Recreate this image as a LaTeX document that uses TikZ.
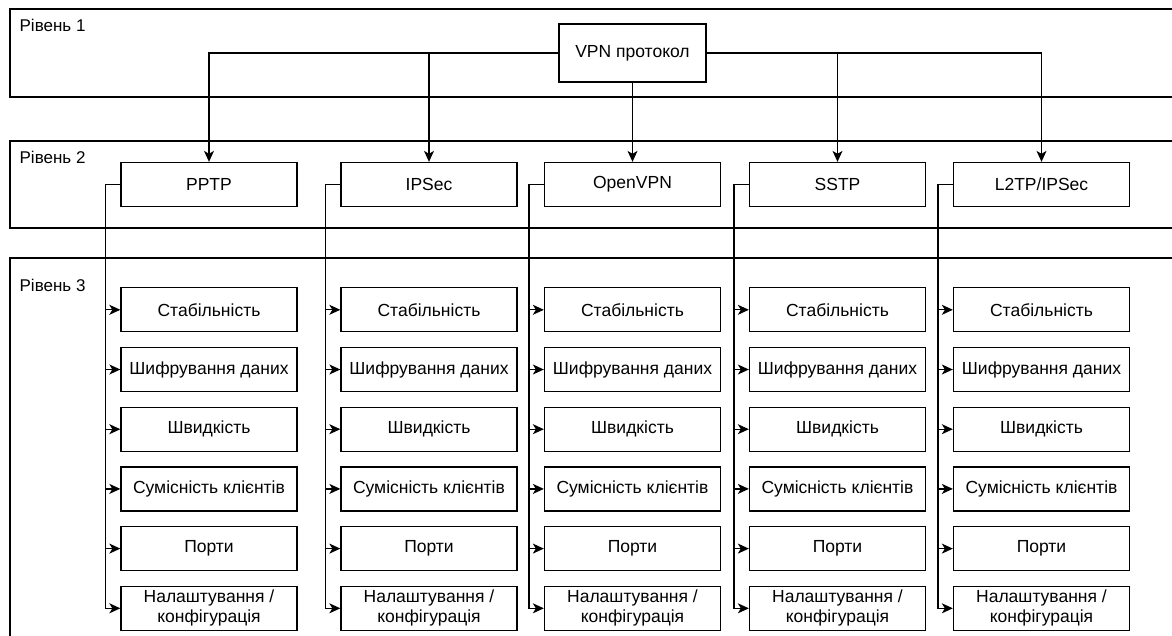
\documentclass[tikz,border=0pt]{standalone}
\usepackage{fontspec}
\setmainfont{Liberation Sans}
\usetikzlibrary{arrows.meta,positioning}

\begin{document}
\begin{tikzpicture}[x=1pt, y=-1pt, line width=1.3pt, node distance=14.4pt,
    box/.style={rectangle, draw, minimum width=176pt, minimum height=44pt, inner sep=1pt, align=center, font=\fontsize{17.5}{20}\selectfont},
    lvl/.style={anchor=west, inner sep=0pt, font=\fontsize{17}{20}\selectfont},
    arr/.style={-{Stealth[length=11pt, width=10pt, inset=3pt]}}]
    \useasboundingbox (0,0) rectangle (1172,635);
    \clip (0,0) rectangle (1172,635);

    % Level bands
    \draw (10,9) rectangle (1200,97);
    \draw (10,141) rectangle (1200,228);
    \draw (10,258) rectangle (1200,660);
    \node[lvl] (lvl1) at (19,25) {Рівень 1};
    \node[lvl] (lvl2) at (19,157) {Рівень 2};
    \node[lvl] (lvl3) at (19,285) {Рівень 3};

    % Level 1
    \node[box, minimum width=147pt, minimum height=58pt] (vpn) at (632.5,53) {VPN протокол};

    % Level 2
    \node[box] (pptp) at (209,184.5) {PPTP};
    \node[box] (ipsec) at (429,184.5) {IPSec};
    \node[box] (openvpn) at (632.5,184.5) {OpenVPN};
    \node[box] (sstp) at (837.5,184.5) {SSTP};
    \node[box] (l2tp) at (1041.5,184.5) {L2TP/IPSec};

    % Arrows from level 1
    \draw[arr] (vpn.west) -| (pptp.north);
    \draw[arr] (vpn.west) -| (ipsec.north);
    \draw[arr] (vpn.south) -- (openvpn.north);
    \draw[arr] (vpn.east) -| (sstp.north);
    \draw[arr] (vpn.east) -| (l2tp.north);

    % Level 3
    \foreach \p in {pptp,ipsec,openvpn,sstp,l2tp}{
        \node[box, below=80pt of \p] (\p-1) {Стабільність};
        \node[box, below=of \p-1] (\p-2) {Шифрування даних};
        \node[box, below=of \p-2] (\p-3) {Швидкість};
        \node[box, below=of \p-3] (\p-4) {Сумісність клієнтів};
        \node[box, below=of \p-4] (\p-5) {Порти};
        \node[box, below=of \p-5] (\p-6) {Налаштування /\\конфігурація};
        \foreach \i in {1,...,6}
            \draw[arr] (\p.west) -- ++(-15,0) |- (\p-\i.west);
    }
\end{tikzpicture}
\end{document}
